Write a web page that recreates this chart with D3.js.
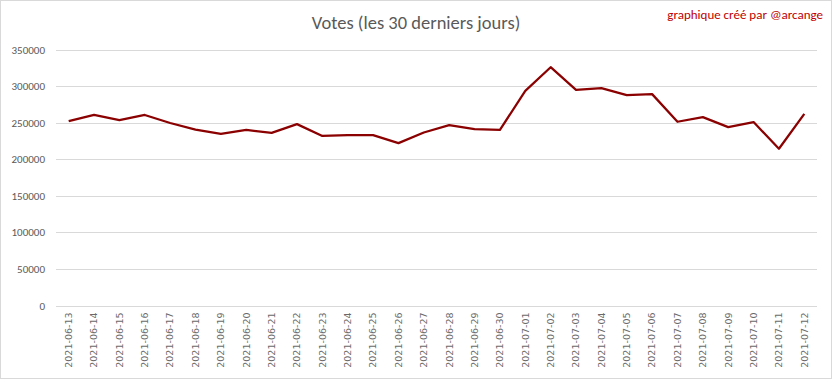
<!DOCTYPE html>
<html><head><meta charset="utf-8">
<script src="https://cdn.jsdelivr.net/npm/d3@7"></script>
<style>body{margin:0;background:#fff}svg{display:block}</style>
</head><body>
<script>
const dates = ["2021-06-13","2021-06-14","2021-06-15","2021-06-16","2021-06-17","2021-06-18","2021-06-19","2021-06-20","2021-06-21","2021-06-22","2021-06-23","2021-06-24","2021-06-25","2021-06-26","2021-06-27","2021-06-28","2021-06-29","2021-06-30","2021-07-01","2021-07-02","2021-07-03","2021-07-04","2021-07-05","2021-07-06","2021-07-07","2021-07-08","2021-07-09","2021-07-10","2021-07-11","2021-07-12"];
const votes = [252000,260500,253500,260500,249500,240500,234500,240000,236000,248000,231800,233000,233000,222000,236500,246500,241200,240000,293500,325800,294800,297200,287600,289000,251200,257600,243900,250800,214300,262100];
const yTicks = [0,50000,100000,150000,200000,250000,300000,350000];
const title = "Votes (les 30 derniers jours)";
const credit = "graphique créé par @arcange";

const W = 832, H = 379;
const m = {left:56, right:15, top:49.5, bottom:73.5};
const svg = d3.select("body").append("svg").attr("width",W).attr("height",H);
svg.append("rect").attr("x",0.5).attr("y",0.5).attr("width",W-1).attr("height",H-1)
  .attr("fill","#fff").attr("stroke","#d9d9d9");

const x = d3.scaleBand().domain(dates).range([m.left, W-m.right]);
const y = d3.scaleLinear().domain([0,350000]).range([H-m.bottom, m.top]);
const font = "Carlito, 'Open Sans', 'Liberation Sans', sans-serif";

// grid
svg.append("g").selectAll("line").data(yTicks).join("line")
  .attr("x1",m.left).attr("x2",W-m.right)
  .attr("y1",d=>Math.round(y(d))+0.5).attr("y2",d=>Math.round(y(d))+0.5)
  .attr("stroke","#d9d9d9").attr("stroke-width",1);

// y axis labels
const ya = svg.append("g").attr("transform",`translate(${m.left-11},0)`)
  .call(d3.axisLeft(y).tickValues(yTicks).tickSize(0).tickPadding(0).tickFormat(d3.format("d")));
ya.select(".domain").remove();
ya.selectAll("text").attr("font-family",font).attr("font-size",11).attr("fill","#595959");

// x axis labels
const xa = svg.append("g").attr("transform",`translate(0,${H-m.bottom})`)
  .call(d3.axisBottom(x).tickSize(0).tickPadding(0));
xa.select(".domain").remove();
xa.selectAll("text").attr("font-family","'DejaVu Sans', sans-serif").attr("font-size",9.5).attr("fill","#6a6a6a")
  .attr("text-anchor","end").attr("dy","0.35em")
  .attr("transform","translate(0,7) rotate(-90)");

// line
svg.append("path").datum(votes)
  .attr("fill","none").attr("stroke","#8b0000").attr("stroke-width",2.25)
  .attr("stroke-linejoin","round")
  .attr("d", d3.line().x((d,i)=>x(dates[i])+x.bandwidth()/2).y(d=>y(d)));

// title
svg.append("text").attr("x",416).attr("y",29).attr("text-anchor","middle")
  .attr("font-family",font).attr("font-size",18.5).attr("fill","#595959").text(title);
svg.append("text").attr("x",823).attr("y",19).attr("text-anchor","end")
  .attr("font-family",font).attr("font-size",13).attr("fill","#c00000").text(credit);
</script>
</body></html>
